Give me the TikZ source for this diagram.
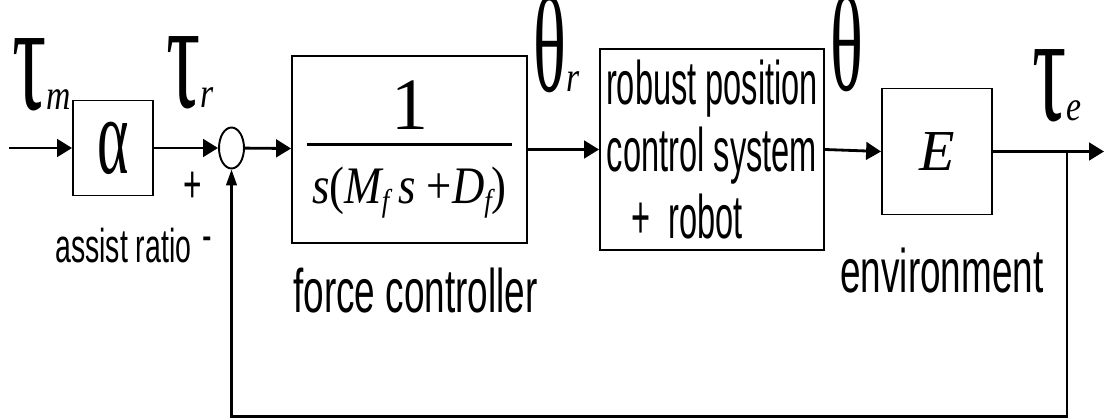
\documentclass[tikz,border=0pt]{standalone}
\usepackage{amsmath}
\usepackage{fontspec}
\setmainfont{Liberation Sans}
\newfontfamily\narrowsans[FakeStretch=0.6]{Liberation Sans}
\newfontfamily\narrowersans[FakeStretch=0.53]{Liberation Sans}
\newfontfamily\greekfont[FakeStretch=0.55]{Liberation Serif}
\newfontfamily\thetafont[FakeStretch=0.5]{Liberation Serif}
\newfontfamily\subfont[FakeStretch=0.8]{Liberation Serif}
\newfontfamily\fracfont[FakeStretch=0.85]{Liberation Serif}
\newfontfamily\timesfont{Liberation Serif}
\usetikzlibrary{arrows.meta, positioning, shapes.geometric}

\newcommand{\setfs}[1]{\fontsize{#1}{#1}\selectfont}
\newcommand{\tausym}[1]{{\greekfont\setfs{88}τ}{\subfont\itshape\setfs{24}#1}}
\newcommand{\thetasym}{{\thetafont\setfs{78}θ}}

\begin{document}
\begin{tikzpicture}[
  x=0.02cm, y=-0.02cm,
  block/.style={draw, line width=1.1pt, inner sep=0pt},
  sig/.style={anchor=base west, inner sep=0pt},
  lbl/.style={anchor=base west, inner sep=0pt, font=\narrowsans\setfs{35}},
  flow/.style={line width=1.6pt, -{Triangle[length=8.5pt, width=10pt]}},
  back/.style={line width=1.2pt, -{Triangle[length=9pt, width=6pt]}}
]
  \useasboundingbox (0,0) rectangle (1104,419);

  % Blocks
  \node[block, minimum width=1.6cm, minimum height=1.9cm] (alpha) at (113,148)
    {\greekfont\setfs{62}α};
  \node[block, shape=ellipse, minimum width=0.5cm, minimum height=0.82cm]
    (sum) at (231.5,148) {};
  \node[block, minimum width=4.7cm, minimum height=3.74cm] (force) at (409.5,149.5)
    {$\genfrac{}{}{1.6pt}{0}{\mbox{\timesfont\setfs{42}1}\rule[-3pt]{0pt}{0pt}}%
      {\rule{0pt}{28pt}\mbox{\fracfont\setfs{30}\kern3pt\itshape s\upshape(\itshape M%
      \raisebox{-5pt}{\setfs{18}f}\,s\ \upshape+\itshape D\raisebox{-5pt}{\setfs{18}f}%
      \upshape)\kern3pt}}$};
  \node[block, minimum width=4.48cm, minimum height=4.02cm, align=center,
    font=\narrowersans\fontsize{35}{38}\selectfont] (robust) at (712,149.5)
    {robust position\\control system\\+\ \ robot\hspace*{1cm}};
  \node[block, minimum width=2.2cm, minimum height=2.52cm] (env) at (937,151.5)
    {\timesfont\itshape\setfs{33}E};

  % Signals
  \node[sig] (tm) at (12,109) {\tausym{m}};
  \node[sig] (tr) at (166,107) {\tausym{r}};
  \node[sig] (thr) at (533,91) {\thetasym{\subfont\itshape\setfs{24}r}};
  \node[sig] (th) at (830,90) {\thetasym};
  \node[sig] (te) at (1032,120) {\tausym{e}};

  % Labels
  \node[anchor=base west, inner sep=0pt, font=\narrowsans\setfs{27}] (ratio)
    at (55,262) {assist ratio};
  \node[anchor=base, inner sep=0pt, font=\narrowsans\setfs{27}] (minus)
    at (207,251) {-};
  \node[anchor=base, inner sep=0pt, font=\narrowsans\setfs{30}] (plus)
    at (193,202) {+};
  \node[lbl] (fc) at (293,312) {force controller};
  \node[lbl] (envl) at (840,292) {environment};

  % Connections
  \coordinate (in) at (9,148);
  \coordinate (out) at (1104,151.5);
  \coordinate (branch) at (1067,151.5);
  \draw[flow] (in) -- (alpha);
  \draw[flow] (alpha) -- (sum);
  \draw[flow] (sum) -- (force);
  \draw[flow] (force) -- (robust);
  \draw[flow] (robust.east) -- (env.west);
  \draw[flow] (env) -- (out);
  \draw[back] (branch) -- ++(0,265) -| (sum.south);
\end{tikzpicture}
\end{document}
